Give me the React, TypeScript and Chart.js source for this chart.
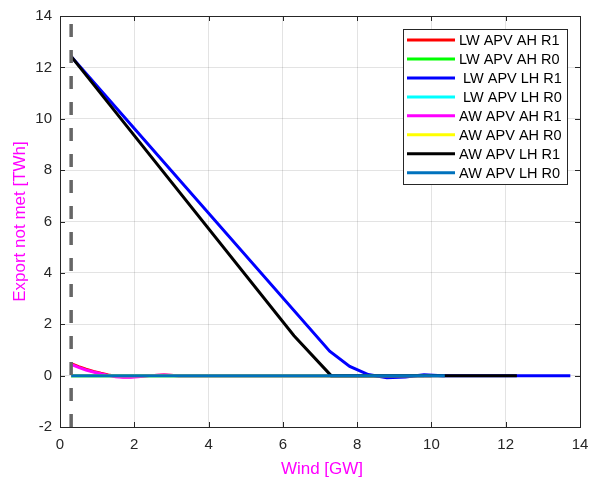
import React, { useEffect, useRef } from "react";
import { Chart, registerables } from "chart.js";

Chart.register(...registerables);

// ---------- data ----------
const seriesNames = [
  "LW APV AH R1",
  "LW APV AH R0",
  " LW APV LH R1",
  " LW APV LH R0",
  "AW APV AH R1",
  "AW APV AH R0",
  "AW APV LH R1",
  "AW APV LH R0",
];
const seriesColors = ["#ff0000", "#00ff00", "#0000ff", "#00ffff", "#ff00ff", "#ffff00", "#000000", "#0072bd"];

const lwAhR1X = [0.3, 0.5, 0.7, 0.9, 1.1, 1.3, 1.5, 1.7, 1.9, 2.1, 2.4, 2.8, 3.2, 9.0];
const lwAhR1Y = [0.47, 0.35, 0.25, 0.16, 0.09, 0.03, -0.02, -0.04, -0.04, -0.02, 0.0, 0.02, 0.0, 0.0];

const lwAhR0X = [0.3, 9.5];
const lwAhR0Y = [0, 0];

const lwLhR1X = [0.3, 7.26, 7.8, 8.3, 8.8, 9.3, 9.8, 10.3, 13.74];
const lwLhR1Y = [12.42, 0.95, 0.36, 0.04, -0.08, -0.05, 0.03, 0.0, 0.0];

const lwLhR0X = [0.3, 9.8];
const lwLhR0Y = [0, 0];

const awAhR1X = [0.3, 0.5, 0.7, 0.9, 1.1, 1.3, 1.5, 1.7, 1.9, 2.1, 2.4, 2.8, 3.2, 10.0];
const awAhR1Y = [0.44, 0.32, 0.22, 0.14, 0.07, 0.01, -0.04, -0.06, -0.06, -0.04, 0.0, 0.02, 0.0, 0.0];

const awAhR0X = [0.3, 10.0];
const awAhR0Y = [0, 0];

const awLhR1X = [0.3, 6.3, 7.3, 12.3];
const awLhR1Y = [12.43, 1.55, 0.0, 0.0];

const awLhR0X = [0.3, 10.36];
const awLhR0Y = [0, 0];

const seriesX = [lwAhR1X, lwAhR0X, lwLhR1X, lwLhR0X, awAhR1X, awAhR0X, awLhR1X, awLhR0X];
const seriesY = [lwAhR1Y, lwAhR0Y, lwLhR1Y, lwLhR0Y, awAhR1Y, awAhR0Y, awLhR1Y, awLhR0Y];

const markerX = [0.3, 0.3];
const markerY = [-2, 14];

const xTicks = [0, 2, 4, 6, 8, 10, 12, 14];
const yTicks = [-2, 0, 2, 4, 6, 8, 10, 12, 14];

const xTitle = "Wind [GW]";
const yTitle = "Export not met [TWh]";

const FONT = "'Liberation Sans', Arial, Helvetica, sans-serif";
const AXIS_COLOR = "#262626";
const TITLE_COLOR = "#ff00ff";

const decorPlugin = {
  id: "decor",
  afterDraw(chart: any) {
    const ctx = chart.ctx as CanvasRenderingContext2D;
    const { left, right, top, bottom } = chart.chartArea;
    const xs = chart.scales.x;
    const ys = chart.scales.y;
    ctx.save();
    // box
    ctx.strokeStyle = AXIS_COLOR;
    ctx.lineWidth = 1;
    ctx.strokeRect(Math.round(left) + 0.5, Math.round(top) + 0.5, Math.round(right - left), Math.round(bottom - top));
    // inward ticks
    const tl = 5;
    ctx.beginPath();
    for (const v of xTicks) {
      const px = Math.round(xs.getPixelForValue(v)) + 0.5;
      ctx.moveTo(px, bottom);
      ctx.lineTo(px, bottom - tl);
      ctx.moveTo(px, top);
      ctx.lineTo(px, top + tl);
    }
    for (const v of yTicks) {
      const py = Math.round(ys.getPixelForValue(v)) + 0.5;
      ctx.moveTo(left, py);
      ctx.lineTo(left + tl, py);
      ctx.moveTo(right, py);
      ctx.lineTo(right - tl, py);
    }
    ctx.stroke();

    // axis titles
    ctx.fillStyle = TITLE_COLOR;
    ctx.font = `17px ${FONT}`;
    ctx.textAlign = "center";
    ctx.textBaseline = "middle";
    ctx.fillText(xTitle, (left + right) / 2 + 2, 469);
    ctx.save();
    ctx.translate(20, (top + bottom) / 2);
    ctx.rotate(-Math.PI / 2);
    ctx.fillText(yTitle, 0, 0);
    ctx.restore();

    // legend
    const lx = right - 177;
    const ly = top + 13;
    const lw = 164;
    const lh = 155;
    ctx.fillStyle = "#ffffff";
    ctx.fillRect(lx, ly, lw, lh);
    ctx.strokeStyle = AXIS_COLOR;
    ctx.lineWidth = 1;
    ctx.strokeRect(lx + 0.5, ly + 0.5, lw, lh);
    ctx.font = `14.5px ${FONT}`;
    ctx.textAlign = "left";
    ctx.textBaseline = "middle";
    for (let i = 0; i < seriesNames.length; i++) {
      const ry = ly + 11 + i * 18.96;
      ctx.strokeStyle = seriesColors[i];
      ctx.lineWidth = 3;
      ctx.beginPath();
      ctx.moveTo(lx + 4, ry);
      ctx.lineTo(lx + 52, ry);
      ctx.stroke();
      ctx.fillStyle = "#000000";
      ctx.fillText(seriesNames[i], lx + 56, ry + 1);
    }
    ctx.restore();
  },
};

export default function App() {
  const ref = useRef<HTMLCanvasElement | null>(null);
  useEffect(() => {
    if (!ref.current) return;
    const datasets: any[] = seriesNames.map((name, i) => ({
      label: name,
      data: seriesX[i].map((x, j) => ({ x, y: seriesY[i][j] })),
      borderColor: seriesColors[i],
      backgroundColor: seriesColors[i],
      borderWidth: 3,
      pointRadius: 0,
      tension: 0,
      fill: false,
      order: seriesNames.length - i,
    }));
    datasets.push({
      label: "marker",
      data: markerX.map((x, j) => ({ x, y: markerY[j] })),
      borderColor: "#666666",
      borderWidth: 3.5,
      borderDash: [13, 13],
      pointRadius: 0,
      fill: false,
      order: -1,
    });
    const chart = new Chart(ref.current, {
      type: "line",
      data: { datasets },
      plugins: [decorPlugin],
      options: {
        responsive: false,
        animation: false,
        devicePixelRatio: 1,
        layout: { padding: { top: 16, right: 10, left: 0, bottom: 0 } },
        plugins: { legend: { display: false }, tooltip: { enabled: false } },
        scales: {
          x: {
            type: "linear",
            min: 0,
            max: 14,
            afterFit: (s: any) => {
              s.height = 54;
              s.paddingLeft = 0;
              s.paddingRight = 0;
            },
            afterBuildTicks: (s: any) => {
              s.ticks = xTicks.map((v) => ({ value: v }));
            },
            ticks: { font: { size: 15, family: FONT }, color: AXIS_COLOR, padding: 9, maxRotation: 0 },
            grid: { color: "rgba(38,38,38,0.13)", drawTicks: false, lineWidth: 1 },
            border: { display: false },
          },
          y: {
            type: "linear",
            min: -2,
            max: 14,
            afterFit: (s: any) => {
              s.width = 60;
              s.paddingTop = 0;
              s.paddingBottom = 0;
            },
            afterBuildTicks: (s: any) => {
              s.ticks = yTicks.map((v) => ({ value: v }));
            },
            ticks: { font: { size: 15, family: FONT }, color: AXIS_COLOR, padding: 8 },
            grid: { color: "rgba(38,38,38,0.13)", drawTicks: false, lineWidth: 1 },
            border: { display: false },
          },
        },
      } as any,
    });
    return () => chart.destroy();
  }, []);
  return (
    <div style={{ position: "absolute", left: 0, top: 0, width: 590, height: 481, background: "#ffffff" }}>
      <canvas ref={ref} width={590} height={481} style={{ display: "block" }} />
    </div>
  );
}
